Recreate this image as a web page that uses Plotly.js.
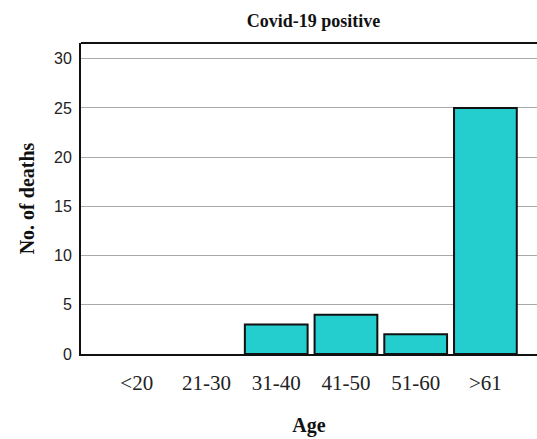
<!DOCTYPE html>
<html>
<head>
<meta charset="utf-8">
<script src="https://cdn.plot.ly/plotly-3.0.1.min.js"></script>
<style>html,body{margin:0;padding:0;background:#fff;}</style>
</head>
<body>
<div id="chart" style="width:537px;height:439px;"></div>
<script>
const ageGroups = ['<20', '21-30', '31-40', '41-50', '51-60', '>61'];
const deaths = [0, 0, 3, 4, 2, 25];
const yTicks = [0, 5, 10, 15, 20, 25, 30];

const serif = 'Liberation Serif, Times New Roman, serif';
const sans = 'Liberation Sans, Arial, sans-serif';

const data = [{
  type: 'bar',
  x: ageGroups,
  y: deaths,
  width: 0.9,
  marker: {color: '#24CDCE', line: {color: '#111', width: deaths.map(v => v > 0 ? 2 : 0)}},
  hoverinfo: 'x+y'
}];

const layout = {
  width: 537, height: 439,
  margin: {l: 81, r: 0, t: 43, b: 85},
  paper_bgcolor: '#fff', plot_bgcolor: '#fff',
  showlegend: false,
  title: {text: '<b>Covid-19 positive</b>', font: {family: serif, size: 18, color: '#111'},
          x: 0.51, xref: 'paper', xanchor: 'center', y: 0.968, yref: 'container'},
  xaxis: {
    type: 'category', range: [-0.8, 5.74],
    showline: true, linecolor: '#111', linewidth: 2,
    ticks: 'outside', ticklen: 9, tickcolor: 'rgba(0,0,0,0)',
    tickfont: {family: serif, size: 21, color: '#222'},
    showgrid: false,
    title: {text: '<b>Age</b>', font: {family: serif, size: 20, color: '#111'}, standoff: 24}
  },
  yaxis: {
    range: [0, 31.6], tickvals: yTicks,
    showline: true, linecolor: '#111', linewidth: 2,
    ticks: 'outside', ticklen: 4, tickcolor: 'rgba(0,0,0,0)',
    tickfont: {family: sans, size: 16, color: '#222'},
    showgrid: true, gridcolor: '#aaa', gridwidth: 1, zeroline: false,
    title: {text: '<b>No. of deaths</b>', font: {family: serif, size: 20, color: '#111'}, standoff: 14}
  },
  shapes: [{type: 'line', xref: 'paper', yref: 'paper', x0: 0, x1: 1, y0: 1, y1: 1,
            line: {color: '#111', width: 2}}]
};

Plotly.newPlot('chart', data, layout, {displayModeBar: false, staticPlot: true});
</script>
</body>
</html>
